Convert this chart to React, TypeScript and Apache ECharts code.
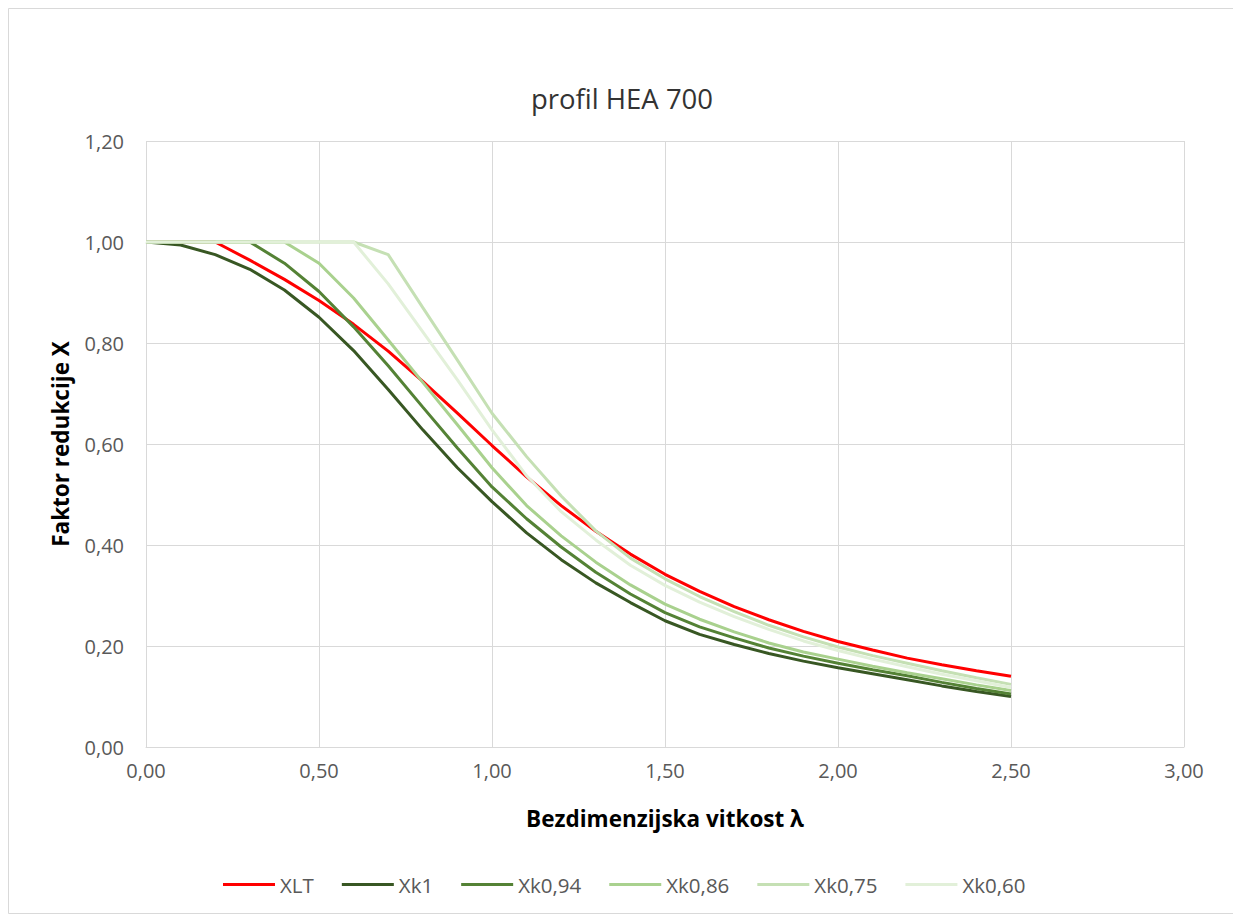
import React, { useEffect, useRef } from "react";
import * as echarts from "echarts";

const LAMBDA = [0, 0.1, 0.2, 0.3, 0.4, 0.5, 0.6, 0.7, 0.8, 0.9, 1.0, 1.1, 1.2, 1.3, 1.4, 1.5, 1.6, 1.7, 1.8, 1.9, 2.0, 2.1, 2.2, 2.3, 2.4, 2.5];

const XLT = [1, 1, 1, 0.964, 0.926, 0.884, 0.837, 0.784, 0.724, 0.661, 0.597, 0.535, 0.478, 0.427, 0.382, 0.342, 0.308, 0.278, 0.252, 0.229, 0.209, 0.192, 0.176, 0.163, 0.151, 0.14];
const XK1 = [1, 0.994, 0.975, 0.946, 0.905, 0.851, 0.785, 0.708, 0.628, 0.553, 0.486, 0.424, 0.371, 0.325, 0.286, 0.25, 0.223, 0.203, 0.185, 0.17, 0.157, 0.145, 0.133, 0.121, 0.11, 0.1];
const XK094 = [1, 1, 1, 1, 0.958, 0.902, 0.832, 0.755, 0.673, 0.592, 0.515, 0.452, 0.396, 0.346, 0.303, 0.266, 0.238, 0.216, 0.196, 0.18, 0.166, 0.153, 0.141, 0.128, 0.116, 0.105];
const XK086 = [1, 1, 1, 1, 1, 0.958, 0.889, 0.806, 0.722, 0.638, 0.553, 0.478, 0.418, 0.366, 0.321, 0.283, 0.253, 0.228, 0.206, 0.188, 0.174, 0.16, 0.147, 0.135, 0.123, 0.112];
const XK075 = [1, 1, 1, 1, 1, 1, 1, 0.975, 0.87, 0.766, 0.661, 0.575, 0.497, 0.428, 0.374, 0.333, 0.298, 0.268, 0.241, 0.218, 0.198, 0.181, 0.166, 0.151, 0.137, 0.124];
const XK060 = [1, 1, 1, 1, 1, 1, 1, 0.917, 0.822, 0.727, 0.628, 0.537, 0.466, 0.41, 0.36, 0.32, 0.287, 0.258, 0.233, 0.21, 0.191, 0.174, 0.159, 0.144, 0.131, 0.118];

const SERIES_NAMES = ["XLT", "Xk1", "Xk0,94", "Xk0,86", "Xk0,75", "Xk0,60"];
const SERIES_VALUES = [XLT, XK1, XK094, XK086, XK075, XK060];
const SERIES_COLORS = ["#FF0000", "#385723", "#548235", "#A9D18E", "#C5E0B4", "#E2F0D9"];

const TITLE = "profil HEA 700";
const X_NAME = "Bezdimenzijska vitkost λ";
const Y_NAME = "Faktor redukcije X";

const FONT = "'Open Sans', 'Noto Sans', sans-serif";

const fmt = (v: number) => v.toFixed(2).replace(".", ",");

export default function App() {
  const ref = useRef<HTMLDivElement>(null);
  useEffect(() => {
    if (!ref.current) return;
    const chart = echarts.init(ref.current, null, { renderer: "svg" });
    chart.setOption({
      animation: false,
      backgroundColor: "#ffffff",
      textStyle: { fontFamily: FONT },
      graphic: [
        {
          type: "rect",
          silent: true,
          z: -10,
          shape: { x: 8.5, y: 8.5, width: 1240, height: 905 },
          style: { fill: "none", stroke: "#d9d9d9", lineWidth: 1 },
        },
        {
          type: "text",
          x: 622,
          y: 98,
          style: {
            text: TITLE,
            fontFamily: FONT,
            fontSize: 27.5,
            fill: "#333333",
            align: "center",
            verticalAlign: "middle",
          },
        },
      ],
      legend: {
        data: SERIES_NAMES,
        left: 218,
        top: 869,
        icon: "rect",
        itemWidth: 52,
        itemHeight: 3,
        itemGap: 28,
        textStyle: { fontFamily: FONT, fontSize: 20.5, color: "#595959", lineHeight: 20 },
      },
      grid: { left: 146, right: 49, top: 141, bottom: 175, containLabel: false },
      xAxis: {
        type: "value",
        min: 0,
        max: 3,
        interval: 0.5,
        name: X_NAME,
        nameLocation: "middle",
        nameGap: 71,
        nameTextStyle: { fontFamily: FONT, fontSize: 22.5, fontWeight: "bold", color: "#000000", verticalAlign: "middle" },
        axisLine: { show: true, lineStyle: { color: "#d9d9d9", width: 1 } },
        axisTick: { show: false },
        axisLabel: { formatter: fmt, fontFamily: FONT, fontSize: 20, color: "#595959", margin: 13 },
        splitLine: { show: true, lineStyle: { color: "#d9d9d9", width: 1 } },
      },
      yAxis: {
        type: "value",
        min: 0,
        max: 1.2,
        interval: 0.2,
        name: Y_NAME,
        nameLocation: "middle",
        nameGap: 86,
        nameRotate: 90,
        nameTextStyle: { fontFamily: FONT, fontSize: 22.5, fontWeight: "bold", color: "#000000", verticalAlign: "middle" },
        axisLine: { show: false },
        axisTick: { show: false },
        axisLabel: { formatter: fmt, fontFamily: FONT, fontSize: 20, color: "#595959", margin: 22 },
        splitLine: { show: true, lineStyle: { color: "#d9d9d9", width: 1 } },
      },
      series: SERIES_NAMES.map((name, i) => ({
        name,
        type: "line",
        data: LAMBDA.map((l, j) => [l, SERIES_VALUES[i][j]]),
        symbol: "none",
        showSymbol: false,
        smooth: false,
        color: SERIES_COLORS[i],
        itemStyle: { color: SERIES_COLORS[i] },
        lineStyle: { color: SERIES_COLORS[i], width: 3 },
        emphasis: { disabled: true },
      })),
    });
    return () => chart.dispose();
  }, []);
  return (
    <div
      ref={ref}
      style={{ position: "absolute", left: 0, top: 0, width: 1233, height: 922, background: "#fff" }}
    />
  );
}
